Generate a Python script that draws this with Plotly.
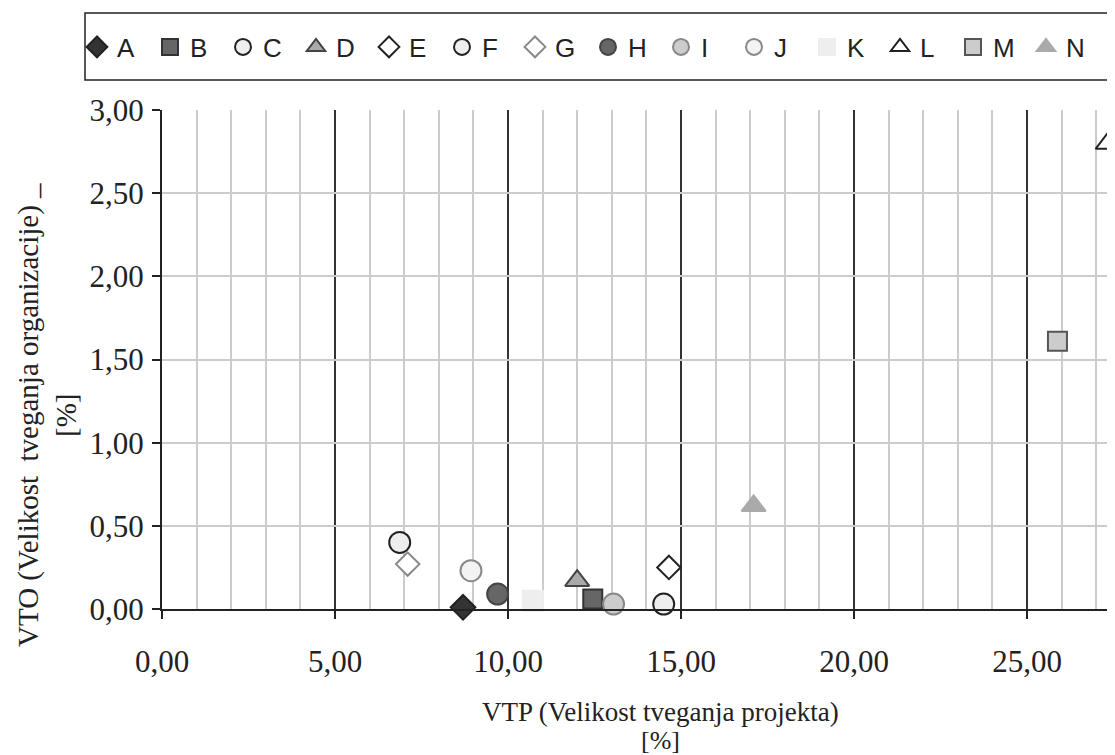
import plotly.graph_objects as go

names = ["A", "B", "C", "D", "E", "F", "G", "H", "I", "J", "K", "L", "M", "N"]
vtp = [8.70, 12.45, 6.87, 12.00, 14.65, 14.50, 7.10, 9.70, 13.05, 8.93, 10.72, 27.35, 25.88, 17.10]
vto = [0.01, 0.06, 0.40, 0.17, 0.25, 0.03, 0.27, 0.09, 0.03, 0.23, 0.05, 2.80, 1.61, 0.62]

symbols = ["diamond", "square", "circle", "triangle-up", "diamond", "circle", "diamond",
           "circle", "circle", "circle", "square", "triangle-up", "square", "triangle-up"]
fills = ["#333333", "#666666", "#eeeeee", "#aaaaaa", "#ffffff", "#eeeeee", "#ffffff",
         "#666666", "#cccccc", "#f3f3f3", "#eeeeee", "#ffffff", "#cccccc", "#aaaaaa"]
edges = ["#222222", "#333333", "#222222", "#444444", "#222222", "#222222", "#888888",
         "#444444", "#888888", "#888888", "#eeeeee", "#222222", "#555555", "#aaaaaa"]
sizes = [19, 19, 21, 21, 18, 21, 18, 21, 21, 21, 20, 22, 19, 21]

# page has an 8px body margin, so figure coords = screen coords - 8
OFF = 8
W, H = 1115, 755
L, T = 162 - OFF, 110 - OFF
RIGHT, BOTTOM = 1115 - OFF, 609 - OFF
pw, ph = RIGHT - L, BOTTOM - T

fig = go.Figure()
for i, n in enumerate(names):
    fig.add_trace(go.Scatter(
        x=[vtp[i]], y=[vto[i]], mode="markers", name=n, cliponaxis=False,
        marker=dict(symbol=symbols[i], size=sizes[i], color=fills[i],
                    line=dict(color=edges[i], width=2)),
    ))

serif = "Liberation Serif, Times New Roman, serif"
sans = "Liberation Sans, Arial, sans-serif"

def px(xs):
    return (xs - OFF - L) / pw

def py(ys):
    return (BOTTOM - (ys - OFF)) / ph

fig.update_layout(
    width=W, height=H,
    margin=dict(l=L, r=W - RIGHT, t=T, b=H - BOTTOM),
    paper_bgcolor="white", plot_bgcolor="white",
    separators=",.",
    showlegend=True,
    legend=dict(orientation="h", x=px(77), xanchor="left", y=py(47), yanchor="middle",
                entrywidth=28, entrywidthmode="pixels", itemwidth=30,
                font=dict(family=sans, size=26, color="#222222"),
                bgcolor="rgba(0,0,0,0)", borderwidth=0),
    xaxis=dict(range=[0, pw / 34.6], tickmode="array", tickvals=[0, 5, 10, 15, 20, 25],
               tickformat=".2f", showgrid=True, gridcolor="#333333", gridwidth=2,
               minor=dict(dtick=1, showgrid=True, gridcolor="#cccccc", gridwidth=2),
               showline=True, linecolor="#222222", linewidth=2, zeroline=False,
               ticks="outside", ticklen=8, tickcolor="#222222", tickwidth=2,
               ticklabelstandoff=16,
               tickfont=dict(family=serif, size=31, color="#222222")),
    yaxis=dict(range=[0, 3], dtick=0.5, tickformat=".2f", showgrid=True,
               gridcolor="#cccccc", gridwidth=2,
               showline=True, linecolor="#222222", linewidth=2, zeroline=False,
               ticks="outside", ticklen=8, tickcolor="#222222", tickwidth=2,
               ticklabelstandoff=2,
               tickfont=dict(family=serif, size=31, color="#222222")),
    shapes=[dict(type="rect", xref="paper", yref="paper",
                 x0=px(85), x1=px(1140), y0=py(80), y1=py(13),
                 line=dict(color="#222222", width=1.5), fillcolor="rgba(0,0,0,0)", layer="below")],
    annotations=[
        dict(text="VTP (Velikost tveganja projekta)", xref="paper", yref="paper",
             x=px(660), y=py(712), showarrow=False, xanchor="center", yanchor="middle",
             borderpad=0, font=dict(family=serif, size=27, color="#222222")),
        dict(text="[%]", xref="paper", yref="paper",
             x=px(660), y=py(740), showarrow=False, xanchor="center", yanchor="middle",
             borderpad=0, font=dict(family=serif, size=26, color="#222222")),
        dict(text="VTO (Velikost  tveganja organizacije) _<br>[%]", xref="paper", yref="paper",
             x=px(47), y=py(415), showarrow=False, xanchor="center", yanchor="middle",
             textangle=-90, font=dict(family=serif, size=29, color="#222222")),
    ],
)

fig.write_html("out.html")
